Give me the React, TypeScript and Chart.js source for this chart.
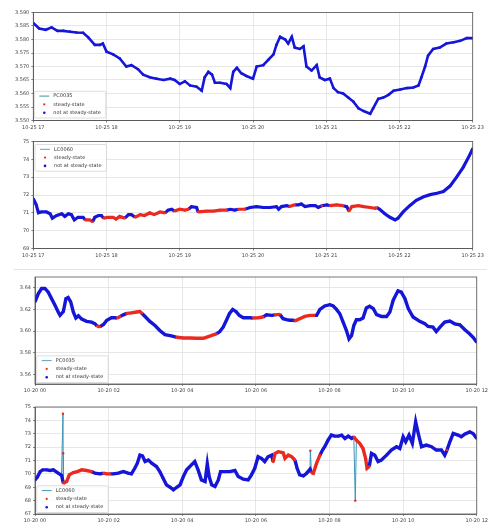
import React, { useEffect, useRef } from 'react';
import { Chart, registerables } from 'chart.js';
Chart.register(...registerables);

const BLUE = '#1616d8';
const RED = '#ea2a20';
const FONT = 'DejaVu Sans';

// ---------- Panel 1: PC0035, 10-25 17..23 ----------
const t1 = [17.00,17.08,17.17,17.25,17.33,17.41,17.50,17.59,17.68,17.75,17.84,17.91,17.95,18.00,18.09,18.18,18.27,18.34,18.43,18.50,18.59,18.68,18.78,18.87,18.93,19.00,19.07,19.14,19.23,19.30,19.34,19.39,19.44,19.48,19.55,19.64,19.69,19.73,19.78,19.84,19.91,20.00,20.05,20.14,20.21,20.28,20.32,20.37,20.44,20.48,20.53,20.57,20.64,20.69,20.73,20.80,20.87,20.91,20.98,21.05,21.10,21.16,21.23,21.30,21.37,21.44,21.51,21.60,21.64,21.71,21.78,21.85,21.92,22.01,22.10,22.19,22.26,22.30,22.35,22.39,22.46,22.55,22.64,22.74,22.83,22.92,23.00];
const v1 = [3.5861,3.5841,3.5836,3.5845,3.5832,3.5832,3.5829,3.5826,3.5825,3.5808,3.578,3.578,3.5785,3.5755,3.5745,3.573,3.570,3.5705,3.569,3.567,3.566,3.5655,3.565,3.5655,3.565,3.5635,3.5645,3.563,3.5625,3.561,3.566,3.568,3.567,3.564,3.564,3.5635,3.562,3.568,3.5695,3.5675,3.5665,3.5655,3.570,3.5705,3.5725,3.5745,3.578,3.581,3.580,3.5785,3.581,3.577,3.5765,3.5775,3.570,3.5685,3.5705,3.566,3.565,3.5655,3.562,3.5605,3.560,3.5585,3.557,3.5545,3.5535,3.5525,3.5545,3.558,3.5585,3.5595,3.561,3.5615,3.562,3.5622,3.563,3.566,3.570,3.574,3.5765,3.577,3.5785,3.579,3.5795,3.5805,3.5805];
const steady1: number[][] = [];

// ---------- Panel 2: LC0060, 10-25 17..23 ----------
const t2 = [17.00,17.04,17.07,17.11,17.18,17.23,17.26,17.32,17.39,17.43,17.48,17.52,17.56,17.61,17.68,17.71,17.77,17.81,17.84,17.89,17.93,17.96,18.02,18.09,18.13,18.18,18.25,18.30,18.34,18.39,18.46,18.52,18.59,18.65,18.73,18.80,18.84,18.89,18.93,19.00,19.07,19.12,19.16,19.23,19.25,19.37,19.46,19.55,19.64,19.69,19.75,19.80,19.89,19.96,20.05,20.14,20.23,20.32,20.35,20.39,20.46,20.50,20.57,20.62,20.66,20.71,20.78,20.85,20.89,20.94,21.01,21.05,21.14,21.23,21.28,21.31,21.35,21.44,21.51,21.60,21.67,21.69,21.73,21.80,21.87,21.94,21.98,22.05,22.14,22.23,22.33,22.42,22.51,22.60,22.69,22.78,22.87,22.96,23.00];
const v2 = [71.8,71.45,71.0,71.05,71.05,70.95,70.7,70.85,70.95,70.8,70.95,70.9,70.6,70.75,70.75,70.6,70.6,70.5,70.75,70.85,70.85,70.7,70.75,70.75,70.65,70.8,70.7,70.9,70.9,70.75,70.9,70.85,71.0,70.9,71.05,71.0,71.15,71.2,71.1,71.2,71.15,71.2,71.35,71.3,71.05,71.1,71.1,71.15,71.15,71.2,71.15,71.2,71.2,71.3,71.35,71.3,71.3,71.35,71.2,71.35,71.4,71.35,71.45,71.45,71.5,71.35,71.4,71.4,71.3,71.4,71.45,71.4,71.45,71.4,71.35,71.1,71.35,71.4,71.35,71.3,71.25,71.3,71.2,70.95,70.75,70.6,70.7,71.05,71.4,71.7,71.9,72.02,72.1,72.2,72.5,73.0,73.55,74.25,74.6];
const steady2 = [[17.70,17.82],[17.95,18.26],[18.38,18.81],[18.92,19.13],[19.24,19.65],[19.79,19.90],[20.49,20.58],[20.93,20.95],[21.04,21.24],[21.30,21.70]];

// ---------- Panel 3: PC0035, 10-20 00..12 ----------
const t3 = [0.00,0.09,0.18,0.27,0.36,0.45,0.54,0.63,0.68,0.77,0.84,0.90,0.97,1.04,1.11,1.18,1.27,1.40,1.54,1.63,1.69,1.76,1.86,1.95,2.08,2.17,2.24,2.31,2.40,2.49,2.62,2.76,2.85,2.90,2.99,3.12,3.26,3.39,3.53,3.67,3.76,3.85,4.03,4.21,4.39,4.57,4.71,4.84,4.93,5.02,5.11,5.20,5.28,5.37,5.46,5.55,5.66,5.84,5.93,6.06,6.20,6.29,6.43,6.52,6.65,6.74,6.83,6.92,7.01,7.06,7.19,7.33,7.47,7.60,7.65,7.74,7.87,8.01,8.10,8.19,8.28,8.37,8.46,8.53,8.60,8.66,8.73,8.82,8.91,9.00,9.09,9.19,9.28,9.41,9.55,9.64,9.73,9.86,9.95,10.05,10.14,10.27,10.45,10.59,10.68,10.81,10.90,11.00,11.13,11.27,11.40,11.54,11.67,11.81,11.90,12.00];
const v3 = [3.627,3.6347,3.6394,3.6394,3.636,3.630,3.624,3.6176,3.6145,3.618,3.630,3.631,3.627,3.6176,3.612,3.614,3.611,3.609,3.6082,3.6067,3.6045,3.604,3.606,3.610,3.6123,3.6123,3.612,3.6135,3.615,3.6163,3.6168,3.6176,3.618,3.6165,3.6135,3.6089,3.6051,3.6005,3.5967,3.5958,3.595,3.5942,3.5936,3.5936,3.5933,3.5933,3.5949,3.5964,3.5973,3.5995,3.6036,3.610,3.616,3.620,3.618,3.6145,3.6123,3.6123,3.612,3.6123,3.613,3.6151,3.6145,3.615,3.6154,3.6114,3.6105,3.610,3.610,3.6094,3.6114,3.6135,3.6145,3.6145,3.6145,3.620,3.6232,3.6244,3.6232,3.620,3.616,3.6082,3.6005,3.5927,3.5958,3.6051,3.6104,3.6104,3.612,3.6213,3.6229,3.6207,3.6151,3.6135,3.6135,3.6176,3.6285,3.6372,3.636,3.630,3.6207,3.613,3.609,3.6067,3.6042,3.6036,3.5995,3.6036,3.6082,3.6092,3.6067,3.6058,3.6014,3.5973,3.5942,3.5896];
const steady3 = [[1.68,1.77],[2.23,2.32],[2.48,2.91],[3.84,4.94],[5.92,6.21],[6.51,6.66],[7.05,7.61]];

// ---------- Panel 4: LC0060, 10-20 00..12 ----------
const t4 = [0.00,0.06,0.14,0.21,0.32,0.41,0.50,0.57,0.63,0.72,0.77,0.86,0.93,1.04,1.15,1.27,1.40,1.54,1.63,1.76,1.86,1.95,2.04,2.13,2.26,2.40,2.53,2.62,2.71,2.78,2.85,2.92,2.99,3.08,3.17,3.30,3.39,3.48,3.57,3.67,3.76,3.85,3.94,4.03,4.12,4.25,4.34,4.43,4.52,4.62,4.68,4.73,4.80,4.89,4.98,5.04,5.16,5.29,5.43,5.52,5.66,5.79,5.88,5.97,6.06,6.15,6.24,6.33,6.43,6.47,6.52,6.61,6.74,6.79,6.88,6.97,7.06,7.12,7.19,7.29,7.38,7.47,7.51,7.56,7.65,7.74,7.81,7.87,7.96,8.05,8.14,8.24,8.33,8.42,8.51,8.60,8.66,8.73,8.82,8.91,8.98,9.02,9.08,9.14,9.23,9.32,9.41,9.55,9.68,9.82,9.91,10.00,10.07,10.16,10.25,10.34,10.41,10.50,10.63,10.77,10.90,11.04,11.13,11.19,11.27,11.36,11.49,11.58,11.67,11.81,11.90,12.00];
const v4 = [69.55,69.75,70.17,70.3,70.3,70.25,70.3,70.17,70.05,69.9,69.3,69.43,69.93,70.1,70.17,70.3,70.25,70.17,70.05,70.0,70.05,70.0,70.0,70.0,70.05,70.17,70.05,70.0,70.42,70.8,71.4,71.34,70.92,71.04,70.8,70.55,70.17,69.68,69.18,69.0,68.8,69.0,69.18,69.8,70.3,70.67,70.92,70.3,69.55,69.43,70.75,69.8,69.18,69.06,69.55,70.17,70.17,70.17,70.25,69.8,69.6,69.55,69.93,70.42,71.28,71.16,70.92,71.28,71.4,70.9,71.53,71.66,71.58,71.16,71.4,71.28,71.04,70.42,69.93,69.85,70.05,70.35,70.1,70.05,70.8,71.4,71.78,72.03,72.52,72.9,72.82,72.82,72.9,72.65,72.82,72.65,72.77,72.52,72.28,71.9,71.16,70.42,70.55,71.53,71.4,70.92,71.04,71.4,71.78,72.03,71.9,72.77,72.4,72.9,72.28,73.89,73.02,72.03,72.15,72.03,71.78,71.78,71.4,71.78,72.4,73.02,72.9,72.77,72.97,73.14,73.02,72.65];
const steady4 = [[0.766,1.55],[1.85,2.05],[6.46,7.07],[7.50,7.75],[8.65,9.09],[11.18,11.20]];
// isolated outlier samples (steady-state) joined only by the thin line
const outT4 = [0.760,0.765,7.48,8.70];
const outV4 = [74.5,71.55,71.73,68.0];

type P = {
  tag: string; lineColor: string; times: number[]; values: number[]; steady: number[][];
  outT: number[]; outV: number[]; day: string; xMin: number; xMax: number; xStep: number;
  yMin: number; yMax: number; yStep: number; yDec: number;
  legendTop: boolean; legendDy: number; legendDx: number;
  top: number; height: number; padTop: number; xH: number; yW: number; padR: number; lw: number;
};

const panels: P[] = [
  { tag: 'PC0035', lineColor: '#3f9696', times: t1, values: v1, steady: steady1, outT: [], outV: [], day: '10-25',
    xMin: 17, xMax: 23, xStep: 1, yMin: 3.55, yMax: 3.59, yStep: 0.005, yDec: 3,
    legendTop: false, legendDy: 2.5, legendDx: 1, top: 0, height: 131, padTop: 12.5, xH: 10.5, yW: 33.3, padR: 17.3, lw: 2.6 },
  { tag: 'LC0060', lineColor: '#5aa3cf', times: t2, values: v2, steady: steady2, outT: [], outV: [], day: '10-25',
    xMin: 17, xMax: 23, xStep: 1, yMin: 69, yMax: 75, yStep: 1, yDec: 0,
    legendTop: true, legendDy: 3, legendDx: 1.7, top: 131, height: 130, padTop: 10.5, xH: 12.5, yW: 33.3, padR: 17.3, lw: 3.2 },
  { tag: 'PC0035', lineColor: '#5aa3cf', times: t3, values: v3, steady: steady3, outT: [], outV: [], day: '10-20',
    xMin: 0, xMax: 12, xStep: 2, yMin: 3.551, yMax: 3.65, yStep: 0.02, yDec: 2,
    legendTop: false, legendDy: 1.5, legendDx: 1.7, top: 262, height: 132, padTop: 15, xH: 10, yW: 35, padR: 12.7, lw: 3.4 },
  { tag: 'LC0060', lineColor: '#3d96b8', times: t4, values: v4, steady: steady4, outT: outT4, outV: outV4, day: '10-20',
    xMin: 0, xMax: 12, xStep: 2, yMin: 67, yMax: 75, yStep: 1, yDec: 0,
    legendTop: false, legendDy: 1.5, legendDx: 1.7, top: 394, height: 131, padTop: 13, xH: 11, yW: 35, padR: 12.7, lw: 3.4 },
];

function makeConfig(p: P): any {
  const states = p.times.map((t) => p.steady.some(([a, b]) => t >= a && t <= b));
  const main = p.times.map((t, i) => ({ x: t, y: p.values[i] }));
  const outs = p.outT.map((t, i) => ({ x: t, y: p.outV[i] }));
  const all = [...main, ...outs].sort((a, b) => a.x - b.x);

  const frame = {
    id: 'frame',
    afterDraw(chart: any) {
      const { ctx, chartArea: a } = chart;
      ctx.save();
      ctx.strokeStyle = '#555';
      ctx.lineWidth = 0.8;
      ctx.strokeRect(a.left, a.top, a.right - a.left, a.bottom - a.top);
      // legend box
      const w = 71.5, h = 26.7;
      const x = a.left + p.legendDx;
      const y = p.legendTop ? a.top + p.legendDy : a.bottom - p.legendDy - h;
      ctx.fillStyle = 'rgba(255,255,255,0.85)';
      ctx.strokeStyle = '#cfcfcf';
      ctx.lineWidth = 0.7;
      ctx.beginPath();
      if (ctx.roundRect) ctx.roundRect(x, y, w, h, 1.5); else ctx.rect(x, y, w, h);
      ctx.fill();
      ctx.stroke();
      const rows = [y + 4.8, y + 13.1, y + 21.4];
      ctx.strokeStyle = p.lineColor;
      ctx.lineWidth = 1;
      ctx.beginPath();
      ctx.moveTo(x + 5, rows[0]);
      ctx.lineTo(x + 15, rows[0]);
      ctx.stroke();
      ctx.fillStyle = RED;
      ctx.beginPath(); ctx.arc(x + 10, rows[1], 1.1, 0, Math.PI * 2); ctx.fill();
      ctx.fillStyle = BLUE;
      ctx.beginPath(); ctx.arc(x + 10, rows[2], 1.3, 0, Math.PI * 2); ctx.fill();
      ctx.fillStyle = '#333';
      ctx.font = `5px "${FONT}"`;
      ctx.textBaseline = 'middle';
      ctx.textAlign = 'left';
      ctx.fillText(p.tag, x + 19, rows[0]);
      ctx.fillText('steady-state', x + 19, rows[1]);
      ctx.fillText('not at steady-state', x + 19, rows[2]);
      ctx.restore();
    },
  };

  const tickFont = { size: 5, family: FONT };
  const grid = { color: '#dcdcdc', lineWidth: 0.7, tickLength: 2, tickColor: '#555', tickWidth: 0.7 };
  const border = { color: '#555', width: 0.8 };

  return {
    type: 'line',
    data: {
      datasets: [
        {
          label: 'outliers', data: outs, showLine: false, pointRadius: 1.2, pointBorderWidth: 0,
          pointBackgroundColor: RED, order: 0,
        },
        {
          label: p.tag, data: main, borderColor: BLUE, borderWidth: p.lw, pointRadius: 1.3, pointBorderWidth: 0,
          pointBackgroundColor: states.map((r) => (r ? RED : BLUE)), order: 1, tension: 0,
          segment: {
            borderColor: (ctx: any) => (states[ctx.p0DataIndex] && states[ctx.p1DataIndex] ? RED : BLUE),
          },
        },
        {
          label: 'raw', data: all, borderColor: p.lineColor, borderWidth: 1, pointRadius: 0, order: 2, tension: 0,
        },
      ],
    },
    options: {
      animation: false,
      responsive: false,
      devicePixelRatio: 1,
      events: [],
      layout: { padding: { top: p.padTop, right: p.padR, left: 0, bottom: 0 } },
      plugins: { legend: { display: false }, tooltip: { enabled: false } },
      scales: {
        x: {
          type: 'linear', min: p.xMin, max: p.xMax,
          afterFit: (s: any) => { s.height = p.xH; },
          ticks: {
            stepSize: p.xStep, autoSkip: false, maxRotation: 0, minRotation: 0, includeBounds: false, padding: 2,
            font: tickFont, color: '#444',
            callback: (v: any) => `${p.day} ${String(v).padStart(2, '0')}`,
          },
          grid, border,
        },
        y: {
          type: 'linear', min: p.yMin, max: p.yMax,
          afterFit: (s: any) => { s.width = p.yW; },
          ticks: {
            stepSize: p.yStep, includeBounds: false, padding: 2, font: tickFont, color: '#444',
            callback: (v: any) => Number(v).toFixed(p.yDec),
          },
          grid, border,
        },
      },
    },
    plugins: [frame],
  };
}

function PanelChart({ p }: { p: P }) {
  const ref = useRef<HTMLCanvasElement>(null);
  useEffect(() => {
    if (!ref.current) return;
    const chart = new Chart(ref.current, makeConfig(p));
    return () => chart.destroy();
  }, [p]);
  return (
    <canvas
      ref={ref}
      width={490}
      height={p.height}
      style={{ position: 'absolute', left: 0, top: p.top, width: 490, height: p.height }}
    />
  );
}

export default function App() {
  return (
    <div style={{ position: 'absolute', left: 0, top: 0, width: 490, height: 525, background: '#fff', overflow: 'hidden' }}>
      <div style={{ position: 'absolute', left: 14, top: 269, width: 473, height: 1, background: '#e4e4e4' }} />
      {panels.map((p, i) => (
        <PanelChart key={i} p={p} />
      ))}
    </div>
  );
}
